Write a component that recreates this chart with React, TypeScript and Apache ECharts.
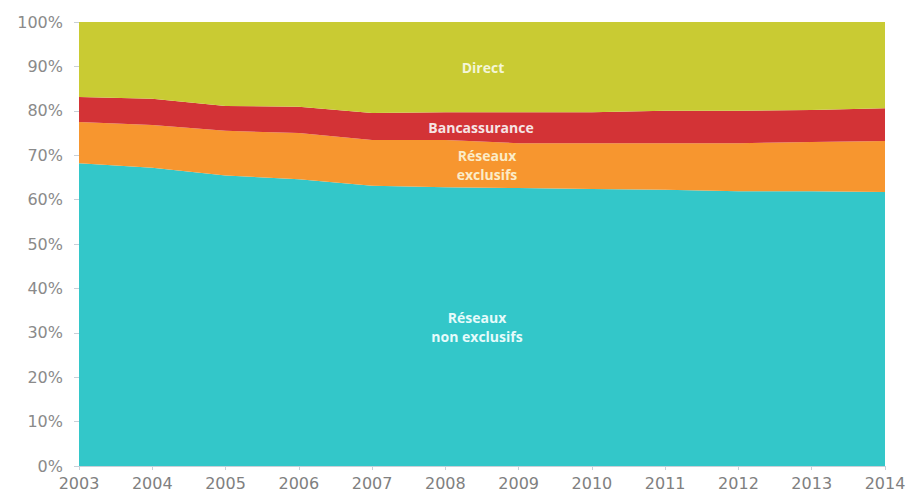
import React, { useEffect, useRef } from "react";
import * as echarts from "echarts";

const years = ["2003", "2004", "2005", "2006", "2007", "2008", "2009", "2010", "2011", "2012", "2013", "2014"];
const nonExclusifs = [68.2, 67.2, 65.4, 64.6, 63.1, 62.8, 62.6, 62.4, 62.2, 61.9, 61.9, 61.7];
const exclusifs = [9.3, 9.6, 10.1, 10.4, 10.3, 10.6, 10.1, 10.3, 10.5, 10.8, 11.1, 11.5];
const bancassurance = [5.6, 5.9, 5.6, 5.9, 6.1, 6.3, 7.0, 7.0, 7.3, 7.3, 7.2, 7.4];
const direct = years.map((_, i) =>
  Math.round((100 - nonExclusifs[i] - exclusifs[i] - bancassurance[i]) * 10) / 10
);

const colors = {
  nonExclusifs: "#33C7C9",
  exclusifs: "#F7962F",
  bancassurance: "#D33336",
  direct: "#C9CB33",
};

export default function App() {
  const ref = useRef<HTMLDivElement>(null);
  useEffect(() => {
    if (!ref.current) return;
    const chart = echarts.init(ref.current, undefined, { renderer: "svg" });
    const mk = (name: string, data: number[], color: string) => ({
      name,
      type: "line",
      stack: "total",
      data,
      symbol: "none",
      lineStyle: { width: 0 },
      areaStyle: { color, opacity: 1 },
      itemStyle: { color },
    });
    const labelStyle = (text: string, x: number, y: number, fill: string) => ({
      type: "text",
      x,
      y,
      z: 100,
      style: {
        text,
        fill,
        fontSize: 14,
        fontWeight: "bold",
        fontFamily: "'Open Sans', sans-serif",
        align: "center",
        verticalAlign: "middle",
        lineHeight: 19,
      },
    });
    chart.setOption({
      animation: false,
      grid: { left: 79, right: 24, top: 22, bottom: 31 },
      xAxis: {
        type: "category",
        data: years,
        boundaryGap: false,
        axisLine: { lineStyle: { color: "#c8d0d8", width: 1 } },
        axisTick: { show: true, length: 4, lineStyle: { color: "#c8d0d8" } },
        axisLabel: {
          color: "#808080",
          fontSize: 16,
          fontFamily: "'DejaVu Sans', sans-serif",
          margin: 9,
        },
        splitLine: { show: false },
      },
      yAxis: {
        type: "value",
        min: 0,
        max: 100,
        interval: 10,
        axisLine: { show: false },
        axisTick: { show: true, length: 5, lineStyle: { color: "#c8d0d8" } },
        axisLabel: {
          color: "#8a8a8a",
          fontSize: 16,
          fontFamily: "'DejaVu Sans', sans-serif",
          formatter: "{value}%",
          margin: 16,
        },
        splitLine: { show: false },
      },
      series: [
        mk("Réseaux non exclusifs", nonExclusifs, colors.nonExclusifs),
        mk("Réseaux exclusifs", exclusifs, colors.exclusifs),
        mk("Bancassurance", bancassurance, colors.bancassurance),
        mk("Direct", direct, colors.direct),
      ],
      graphic: [
        labelStyle("Direct", 483, 67, "#f4f6d8"),
        labelStyle("Bancassurance", 481, 127, "#f6e4e4"),
        labelStyle("Réseaux\nexclusifs", 487, 165, "#fbecc8"),
        labelStyle("Réseaux\nnon exclusifs", 477, 327, "#e6fbfb"),
      ],
    });
    return () => chart.dispose();
  }, []);
  return (
    <div
      ref={ref}
      style={{ position: "fixed", left: 0, top: 0, width: 909, height: 497, background: "#fff" }}
    />
  );
}
